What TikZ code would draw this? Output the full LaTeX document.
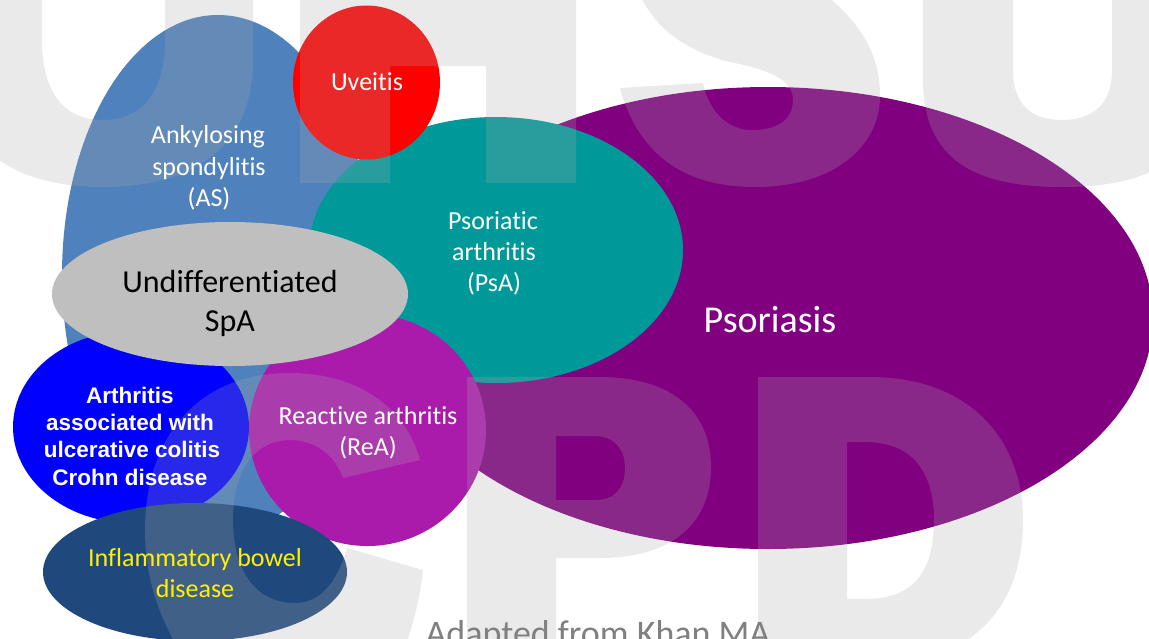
\documentclass[tikz,border=0pt]{standalone}
\usepackage{fontspec}
\setmainfont{Carlito}[Ligatures={NoCommon,NoContextual}]
\newfontfamily\arialf{Liberation Sans}
\definecolor{asblue}{HTML}{4F81BD}
\definecolor{spagray}{HTML}{BFBFBF}
\definecolor{psateal}{HTML}{009999}
\definecolor{psopurple}{HTML}{800080}
\definecolor{reamag}{RGB}{170,27,172}
\definecolor{ibdnavy}{HTML}{1F497D}
\definecolor{wmgray}{RGB}{170,170,170}
\definecolor{srcgray}{RGB}{128,128,128}
\begin{document}
\begin{tikzpicture}[x=1pt,y=-1pt,
  wm/.style={fill=wmgray, fill opacity=0.24},
  lbl/.style={anchor=base, inner sep=0pt, text=white, font=\fontsize{26}{31}\selectfont},
  biglbl/.style={anchor=base, inner sep=0pt, text=black, font=\fontsize{32}{39}\selectfont},
  boldlbl/.style={anchor=base, inner sep=0pt, text=white, font=\arialf\bfseries\fontsize{22.5}{27}\selectfont},
  ibdlbl/.style={anchor=base, inner sep=0pt, text=yellow, font=\fontsize{26}{31}\selectfont}]
\useasboundingbox (0,0) rectangle (1149,638);
\clip (0,0) rectangle (1149,638);
\fill[white] (0,0) rectangle (1149,638);
% shapes
\fill[asblue] (218,275) ellipse [x radius=156, y radius=260];
\fill[psopurple] (768,318) ellipse [x radius=385, y radius=231];
\fill[psateal] (496,250) ellipse [x radius=187, y radius=133];
\fill[red] (366.5,82.5) ellipse [x radius=73.5, y radius=77];
\fill[reamag] (367.5,430) ellipse [x radius=118.5, y radius=116];
\fill[blue] (131,427) ellipse [x radius=118, y radius=96];
\fill[ibdnavy] (195,572) ellipse [x radius=152, y radius=69];
\fill[spagray] (230,294) ellipse [x radius=178, y radius=72];
% watermark letters O H S U / C P D
\fill[wm, even odd rule] (-47,-20) -- (253,-20) -- (253,60) .. controls (253,150) and (190,187) .. (103,187) .. controls (16,187) and (-47,150) .. (-47,60) -- cycle
  (42,-20) -- (42,40) .. controls (42,95) and (66,120) .. (103,120) .. controls (140,120) and (165,95) .. (165,40) -- (165,-20) -- cycle;
\fill[wm] (300,-20) -- (576,-20) -- (576,183) -- (486,183) -- (486,66) -- (390,66) -- (390,183) -- (300,183) -- cycle;
\fill[wm] (634,-20) -- (805,-20) .. controls (850,10) and (880,45) .. (880,95) .. controls (880,150) and (830,187) .. (755,187) .. controls (690,187) and (640,160) .. (620,88) -- (703,83) .. controls (710,115) and (730,130) .. (752,130) .. controls (780,130) and (793,118) .. (793,100) .. controls (793,80) and (770,70) .. (730,62) .. controls (690,52) and (650,30) .. (634,-20) -- cycle;
\fill[wm] (923,-20) -- (923,80) .. controls (923,160) and (975,187) .. (1062,187) .. controls (1150,187) and (1202,160) .. (1202,80) -- (1202,-20) -- (1112,-20) -- (1112,70) .. controls (1112,105) and (1092,120) .. (1062,120) .. controls (1032,120) and (1013,105) .. (1013,70) -- (1013,-20) -- cycle;
\fill[wm] (423,570) -- (347,548) .. controls (335,590) and (315,603) .. (295,603) .. controls (255,603) and (233,570) .. (233,520) .. controls (233,470) and (255,440) .. (290,440) .. controls (315,440) and (335,455) .. (343,478) -- (420,460) .. controls (405,405) and (355,373) .. (290,373) .. controls (195,373) and (145,440) .. (145,530) .. controls (145,580) and (160,620) .. (185,660) -- (400,660) .. controls (412,630) and (420,600) .. (423,570) -- cycle;
\fill[wm, even odd rule] (467,377) -- (600,377) .. controls (670,377) and (711,410) .. (711,467) .. controls (711,525) and (670,558) .. (600,558) -- (556,558) -- (556,660) -- (467,660) -- cycle
  (556,436) -- (595,436) .. controls (615,436) and (625,450) .. (625,468) .. controls (625,488) and (615,500) .. (595,500) -- (556,500) -- cycle;
\fill[wm, even odd rule] (758,377) -- (870,377) .. controls (970,377) and (1023,440) .. (1023,520) .. controls (1023,610) and (970,665) .. (870,665) -- (758,665) -- cycle
  (847,442) -- (865,442) .. controls (915,442) and (934,475) .. (934,520) .. controls (934,570) and (915,599) .. (865,599) -- (847,599) -- cycle;
% labels
\node[lbl] (uv) at (367,90) {Uveitis};
\node[lbl] (as1) at (208,143) {Ankylosing};
\node[lbl] (as2) at (209,175) {spondylitis};
\node[lbl] (as3) at (209,206) {(AS)};
\node[lbl] (psa1) at (493,229) {Psoriatic};
\node[lbl] (psa2) at (494,260) {arthritis};
\node[lbl] (psa3) at (494,291) {(PsA)};
\node[biglbl] (spa1) at (230,292) {Undifferentiated};
\node[biglbl] (spa2) at (230,331) {SpA};
\node[lbl, font=\fontsize{38}{46}\selectfont] (pso) at (770,332) {Psoriasis};
\node[boldlbl] (ar1) at (130,403) {Arthritis};
\node[boldlbl] (ar2) at (130,430) {associated with};
\node[boldlbl] (ar3) at (132,457) {ulcerative colitis};
\node[boldlbl] (ar4) at (130,485) {Crohn disease};
\node[lbl] (rea1) at (368,424) {Reactive arthritis};
\node[lbl] (rea2) at (368,455) {(ReA)};
\node[ibdlbl] (ibd1) at (195,566) {Inflammatory bowel};
\node[ibdlbl] (ibd2) at (195,597) {disease};
\node[anchor=base, inner sep=0pt, text=srcgray, font=\fontsize{36}{43}\selectfont] (src) at (598,645) {Adapted from Khan MA};
\end{tikzpicture}
\end{document}
